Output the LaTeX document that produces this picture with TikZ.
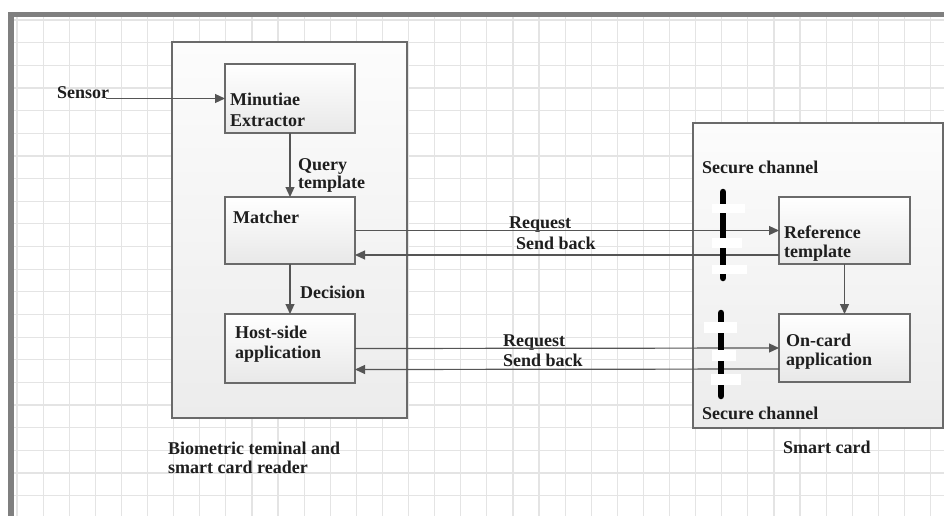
\documentclass[tikz,border=0pt]{standalone}
\usepackage{fontspec}
\setmainfont{Liberation Serif}
\usetikzlibrary{arrows.meta}
\definecolor{gridc}{HTML}{E4E4E4}
\definecolor{borderc}{HTML}{7F7F7F}
\definecolor{boxc}{HTML}{6A6A6A}
\definecolor{arrc}{HTML}{555555}
\definecolor{txtc}{HTML}{1E1E1E}
\definecolor{outtop}{HTML}{FCFCFC}
\definecolor{outbot}{HTML}{ECECEC}
\definecolor{intop}{HTML}{FFFFFF}
\definecolor{inbot}{HTML}{E8E8E8}
\tikzset{
  gridline/.style={draw=gridc, line width=1.2pt},
  outerbox/.style={draw=boxc, line width=1.3pt, top color=outtop, bottom color=outbot, inner sep=0pt, outer sep=0pt},
  innerbox/.style={draw=boxc, line width=1.3pt, top color=intop, bottom color=inbot, inner sep=0pt, outer sep=0pt},
  lbl/.style={inner sep=0pt, anchor=base west, text=txtc, font=\fontsize{18}{20}\selectfont\bfseries},
  arr/.style={draw=arrc, line width=1.2pt, -{Triangle[length=10pt,width=9pt]}},
  chanline/.style={draw=black, line width=6.5pt, line cap=round},
  gapbox/.style={fill=white}
}
\begin{document}
\begin{tikzpicture}[x=1pt,y=-1pt]
\useasboundingbox (0,0) rectangle (944,516);
% grid
\foreach \i in {0,...,35} \draw[gridline] ({17+26.1*\i},17) -- ({17+26.1*\i},516);
\foreach \j in {0,...,21} \draw[gridline] (14,{20+22.65*\j}) -- (944,{20+22.65*\j});
% frame
\fill[borderc] (8,12) rectangle (944,17);
\fill[borderc] (8,12) rectangle (14,516);
% outer boxes
\node[outerbox, minimum width=235, minimum height=376] (term) at (289.5,230) {};
\node[outerbox, minimum width=250, minimum height=305] (card) at (818,275.5) {};
% inner boxes
\node[innerbox, minimum width=130, minimum height=69] (ext) at (290,98.5) {};
\node[innerbox, minimum width=130, minimum height=67] (matcher) at (290,230.5) {};
\node[innerbox, minimum width=130, minimum height=69] (host) at (290,348.5) {};
\node[innerbox, minimum width=131, minimum height=67] (ref) at (844.5,230.5) {};
\node[innerbox, minimum width=131, minimum height=68] (oncard) at (844.5,348) {};
% labels
\node[lbl] (sensor) at (57,99) {Sensor};
\node[lbl] (extA) at (230,106) {Minutiae};
\node[lbl] (extB) at (230,126) {Extractor};
\node[lbl] (qA) at (298,170) {Query};
\node[lbl] (qB) at (298,188) {template};
\node[lbl] (matT) at (233,223) {Matcher};
\node[lbl] (dec) at (300,298) {Decision};
\node[lbl] (hostA) at (235,338) {Host-side};
\node[lbl] (hostB) at (235,358) {application};
\node[lbl] (bioA) at (168,454) {Biometric teminal and};
\node[lbl] (bioB) at (168,473) {smart card reader};
\node[lbl] (refA) at (784,238) {Reference};
\node[lbl] (refB) at (784,257) {template};
\node[lbl] (ocA) at (786,346) {On-card};
\node[lbl] (ocB) at (786,365) {application};
\node[lbl] (secA) at (702,173) {Secure channel};
\node[lbl] (secB) at (702,419) {Secure channel};
\node[lbl] (smart) at (783,453) {Smart card};
\node[lbl] (req1) at (509,228) {Request};
\node[lbl] (back1) at (516,249) {Send back};
\node[lbl] (req2) at (503,346) {Request};
\node[lbl] (back2) at (503,366) {Send back};
% connectors
\draw[arr] ([xshift=-3pt]sensor.base east |- ext.west) -- (ext.west);
\draw[arr] (ext.south) -- (matcher.north);
\draw[arr] (matcher.south) -- (host.north);
\draw[arr] (matcher.east) -- (ref.west);
\draw[arr] ([yshift=-24.5pt]ref.west) -- ([yshift=-24.5pt]matcher.east);
\draw[arr] (host.east) -- (oncard.west);
\draw[arr] ([yshift=-21pt]oncard.west) -- ([yshift=-21pt]host.east);
\draw[arr] (ref.south) -- (oncard.north);
% secure channel bars
\coordinate (ch1a) at (723,192);
\coordinate (ch1b) at (723,278);
\coordinate (ch2a) at (721,313);
\coordinate (ch2b) at (721,396);
\draw[chanline] (ch1a) -- (ch1b);
\draw[chanline] (ch2a) -- (ch2b);
\fill[gapbox] (712,204) rectangle (745,213);
\fill[gapbox] (712,238) rectangle (742,248);
\fill[gapbox] (712,265) rectangle (747,274);
\fill[gapbox] (704,322) rectangle (737,333);
\fill[gapbox] (712,350) rectangle (736,361);
\fill[gapbox] (711,374) rectangle (741,385);
\end{tikzpicture}
\end{document}
